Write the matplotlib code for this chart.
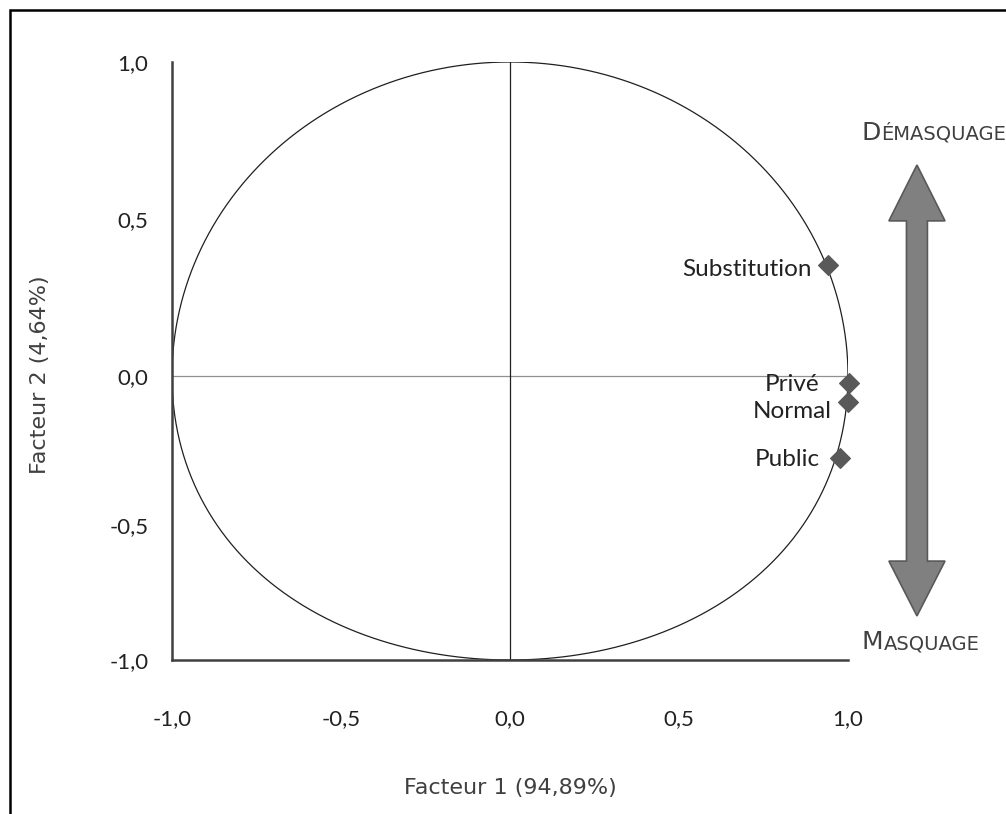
import numpy as np
import matplotlib
matplotlib.use("Agg")
import matplotlib.pyplot as plt
from matplotlib.patches import Polygon, Rectangle

# Correlation circle data (factor 1 / factor 2 coordinates)
variables = ['Substitution', 'Privé', 'Normal', 'Public']
f1 = [0.941, 1.003, 1.000, 0.975]
f2 = [0.354, -0.022, -0.083, -0.268]
ticks = [-1.0, -0.5, 0.0, 0.5, 1.0]
xlabel = 'Facteur 1 (94,89%)'
ylabel = 'Facteur 2 (4,64%)'

# label offsets (points) for each variable name
label_offsets = [(-12, -3.6), (-21, -1.4), (-12, -7), (-14, -1.4)]

txt = '#404040'
W, H = 1006, 814
fig = plt.figure(figsize=(W / 100, H / 100), dpi=100)
ax = fig.add_axes([172 / W, (H - 660) / H, 676 / W, 598 / H])


# vertical axis: linear above zero, gently squeezed below zero
def fwd(y):
    y = np.asarray(y, dtype=float)
    return np.where(y >= 0, 314.0 * y, 314.0 * y + 30.0 * y ** 2)


_grid = np.linspace(-1.5, 1.5, 30001)
_vals = fwd(_grid)


def inv(v):
    return np.interp(v, _vals, _grid)


ax.set_yscale('function', functions=(fwd, inv))
ax.set_xlim(-1, 1)
ax.set_ylim(-1, 1)

# outer frame
fig.patches.append(Rectangle((10 / W, -0.05), 1.2, (H - 10) / H + 0.05,
                             transform=fig.transFigure, fill=False,
                             edgecolor='black', linewidth=1.8))

for s in ['top', 'right']:
    ax.spines[s].set_visible(False)
for s in ['left', 'bottom']:
    ax.spines[s].set_color('#404040')
    ax.spines[s].set_linewidth(1.8)

ax.axhline(0, color='#909090', linewidth=0.9, zorder=1)
ax.axvline(0, color='#202020', linewidth=0.9, zorder=1)
theta = np.linspace(0, 2 * np.pi, 721)
ax.plot(np.cos(theta), np.sin(theta), color='#202020', linewidth=0.9, zorder=2)

ax.set_xticks(ticks)
ax.set_yticks(ticks)
ax.yaxis.set_minor_locator(matplotlib.ticker.NullLocator())
ax.set_xticklabels([f'{t:.1f}'.replace('.', ',') for t in ticks])
ax.set_yticklabels([f'{t:.1f}'.replace('.', ',') for t in ticks])
ax.tick_params(length=0, labelsize=16, colors='#222222')
ax.tick_params(axis='x', pad=35)
ax.tick_params(axis='y', pad=17)
for lab in ax.get_xticklabels() + ax.get_yticklabels():
    lab.set_family('Lato')

ax.set_xlabel(xlabel, fontsize=16, color=txt)
ax.xaxis.set_label_coords(0.5, -(788 - 660) / 598, transform=ax.transAxes)
ax.set_ylabel(ylabel, fontsize=16, color=txt)
ax.yaxis.set_label_coords(-(172 - 40) / 676, (660 - 375) / 598, transform=ax.transAxes)
ax.xaxis.label.set_va('center')
ax.yaxis.label.set_va('center')

ax.scatter(f1, f2, marker='D', s=100, color='#595959', zorder=5, clip_on=False)
for name, x, y, off in zip(variables, f1, f2, label_offsets):
    ax.annotate(name, (x, y), xytext=off, textcoords='offset points',
                ha='right', va='center', fontsize=17.5, color='#222222',
                family='Lato', annotation_clip=False)

# double-headed arrow masquage / démasquage
cx, hw, sw = 1.204, 0.083, 0.031
top, top_b, bot_b, bot = 0.672, 0.494, -0.627, -0.83
arrow = Polygon([(cx, top), (cx + hw, top_b), (cx + sw, top_b), (cx + sw, bot_b),
                 (cx + hw, bot_b), (cx, bot), (cx - hw, bot_b), (cx - sw, bot_b),
                 (cx - sw, top_b), (cx - hw, top_b)],
                closed=True, facecolor='#808080', edgecolor='#595959',
                linewidth=1.2, clip_on=False)
ax.add_patch(arrow)


# small-caps headings
def small_caps(x, y, first, rest):
    t = fig.text(x, y, first, fontsize=18, color=txt, va='baseline')
    fig.canvas.draw()
    bb = t.get_window_extent()
    fig.text(bb.x1 / W, y, rest, fontsize=14, color=txt, va='baseline')


small_caps(862 / W, (H - 140) / H, 'D', 'ÉMASQUAGE')
small_caps(862 / W, (H - 649) / H, 'M', 'ASQUAGE')

fig.savefig('out.png', dpi=100)
